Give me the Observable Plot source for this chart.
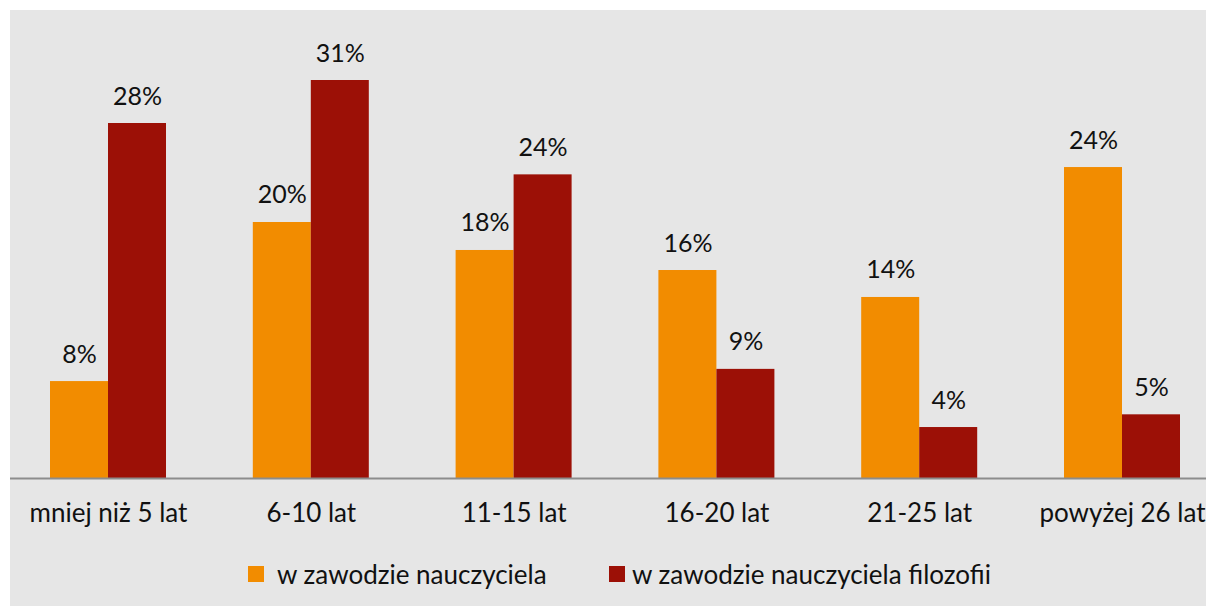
<!DOCTYPE html>
<html>
<head>
<meta charset="utf-8">
<script src="https://cdn.jsdelivr.net/npm/d3@7"></script>
<script src="https://cdn.jsdelivr.net/npm/@observablehq/plot@0.6"></script>
<style>
  html, body { margin: 0; padding: 0; background: #ffffff; }
  #wrap { position: relative; width: 1206px; height: 606px; overflow: hidden; }
  #bg { position: absolute; left: 10px; top: 10px; right: 0; bottom: 0; background: #e6e6e6; }
  #chart { position: relative; }
  #chart svg { display: block; background: transparent; }
  #legend { position: relative; height: 56px; font-family: Lato, sans-serif; font-size: 26px; color: #111; }
  .item { position: absolute; top: 16px; display: flex; align-items: center; height: 16px; }
  .sw { width: 16px; height: 16px; display: inline-block; }
</style>
</head>
<body>
<div id="wrap">
  <div id="bg"></div>
  <div id="chart"></div>
  <div id="legend"></div>
</div>
<script>
const categories = ["mniej niż 5 lat", "6-10 lat", "11-15 lat", "16-20 lat", "21-25 lat", "powyżej 26 lat"];
const seriesNames = ["w zawodzie nauczyciela", "w zawodzie nauczyciela filozofii"];
const teacherValues = [7.55, 19.94, 17.76, 16.2, 14.1, 24.22];
const philosophyValues = [27.65, 31.0, 23.65, 8.5, 3.97, 4.96];
const seriesColors = ["#f28c00", "#9c1006"];

const data = [];
categories.forEach((c, i) => {
  data.push({category: c, series: seriesNames[0], value: teacherValues[i]});
  data.push({category: c, series: seriesNames[1], value: philosophyValues[i]});
});
const s0 = data.filter(d => d.series === seriesNames[0]);
const s1 = data.filter(d => d.series === seriesNames[1]);

const W = 1206, H = 550;
const step = 202.8, bw = 58, pad = (step - 2 * bw) / 2;
const fmt = d => Math.round(d.value) + "%";

const plot = Plot.plot({
  width: W,
  height: H,
  marginTop: 80,
  marginBottom: 72,
  marginLeft: 10,
  marginRight: 0,
  style: {fontFamily: "Lato, sans-serif", fontSize: "26px", color: "#111", background: "transparent"},
  x: {type: "band", domain: categories, range: [50 - pad, 50 - pad + step * categories.length], padding: 0, round: false, label: null},
  y: {domain: [0, 31], axis: null},
  color: {domain: seriesNames, range: seriesColors},
  marks: [
    Plot.barY(s0, {x: "category", y: "value", fill: "series", insetLeft: pad, insetRight: pad + bw}),
    Plot.barY(s1, {x: "category", y: "value", fill: "series", insetLeft: pad + bw, insetRight: pad}),
    Plot.ruleY([0], {stroke: "#8c8c8c", strokeWidth: 2}),
    Plot.text(s0, {x: "category", y: "value", text: fmt, dx: -bw / 2, dy: -27, fill: "#111", fontSize: 25}),
    Plot.text(s1, {x: "category", y: "value", text: fmt, dx: bw / 2, dy: -27, fill: "#111", fontSize: 25}),
    Plot.axisX({tickSize: 0, tickPadding: 25.5, fontSize: 26, fill: "#111", label: null})
  ]
});
document.getElementById("chart").appendChild(plot);

const legend = document.getElementById("legend");
const legendPos = [{sw: 248, tx: 277}, {sw: 609, tx: 632}];
seriesNames.forEach((name, i) => {
  const item = document.createElement("div");
  item.className = "item";
  item.style.left = legendPos[i].sw + "px";
  const sw = document.createElement("span");
  sw.className = "sw";
  sw.style.background = seriesColors[i];
  const tx = document.createElement("span");
  tx.textContent = name;
  tx.style.marginLeft = (legendPos[i].tx - legendPos[i].sw - 16) + "px";
  tx.style.lineHeight = "16px";
  item.appendChild(sw);
  item.appendChild(tx);
  legend.appendChild(item);
});
</script>
</body>
</html>
